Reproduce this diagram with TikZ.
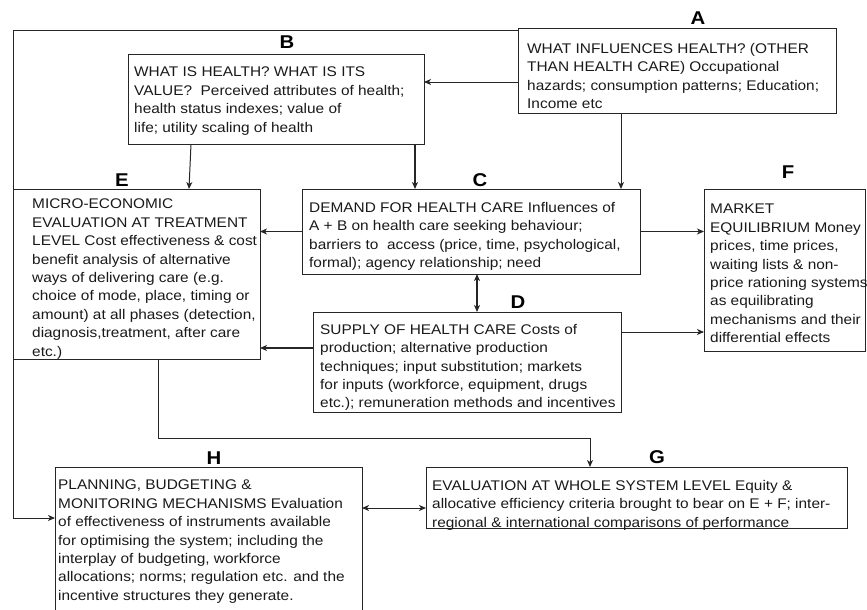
\documentclass[tikz,border=0pt]{standalone}
\usepackage{fontspec}
\setmainfont{Liberation Sans}[FakeStretch=1.1]
\usetikzlibrary{arrows.meta}
\definecolor{ink}{HTML}{262626}
\newcommand{\bodyfont}{\fontsize{14}{18.4}\selectfont}
\begin{document}
\begin{tikzpicture}[x=1pt,y=-1pt,
  box/.style={draw=ink,line width=1pt,inner sep=0pt,outer sep=0pt,anchor=north west},
  txt/.style={anchor=north west,inner sep=0pt,align=left,font=\bodyfont,text=black!90},
  letter/.style={font=\fontsize{18.5}{20}\selectfont\bfseries,inner sep=0pt},
  link/.style={draw=ink,line width=1pt,-{Stealth[length=7pt,width=6pt,inset=2pt]}},
  heavy/.style={link,line width=2pt},
  both/.style={draw=ink,line width=1pt,{Stealth[length=7pt,width=6pt,inset=2pt]}-{Stealth[length=7pt,width=6pt,inset=2pt]}}]
\useasboundingbox (0,0) rectangle (867,610);
\clip (0,0) rectangle (867,610);

% boxes
\node[box,minimum width=318pt,minimum height=84pt] (A) at (518,29) {};
\node[box,minimum width=296pt,minimum height=89pt] (B) at (128,55) {};
\node[box,minimum width=338pt,minimum height=85pt] (C) at (302,189) {};
\node[box,minimum width=308pt,minimum height=100pt] (D) at (313,312) {};
\node[box,minimum width=247pt,minimum height=170pt] (E) at (13,189) {};
\node[box,minimum width=161pt,minimum height=162pt] (F) at (704,189) {};
\node[box,minimum width=421pt,minimum height=61pt] (G) at (426,467) {};
\node[box,minimum width=307pt,minimum height=160pt] (H) at (55,467) {};

% box letters
\node[letter] (lA) at (698,18) {A};
\node[letter] (lB) at (287,42) {B};
\node[letter] (lC) at (480,180) {C};
\node[letter] (lD) at (518,302) {D};
\node[letter] (lE) at (122,180) {E};
\node[letter] (lF) at (788,172) {F};
\node[letter] (lG) at (657,457) {G};
\node[letter] (lH) at (214,458) {H};

% box texts
\node[txt] (tA) at (527,43) {WHAT INFLUENCES HEALTH? (OTHER\\THAN HEALTH CARE) Occupational\\hazards; consumption patterns; Education;\\Income etc};
\node[txt] (tB) at (134,67) {WHAT IS HEALTH? WHAT IS ITS\\VALUE?~ Perceived attributes of health;\\health status indexes; value of\\life; utility scaling of health};
\node[txt] (tC) at (309,202) {DEMAND FOR HEALTH CARE Influences of\\A + B on health care seeking behaviour;\\barriers to~ access (price, time, psychological,\\formal); agency relationship; need};
\node[txt] (tD) at (320,324) {SUPPLY OF HEALTH CARE Costs of\\production; alternative production\\techniques; input substitution; markets\\for inputs (workforce, equipment, drugs\\etc.); remuneration methods and incentives};
\node[txt] (tE) at (32,199) {MICRO-ECONOMIC\\EVALUATION AT TREATMENT\\LEVEL Cost effectiveness \& cost\\benefit analysis of alternative\\ways of delivering care (e.g.\\choice of mode, place, timing or\\amount) at all phases (detection,\\diagnosis,treatment, after care\\etc.)};
\node[txt] (tF) at (710,204) {MARKET\\EQUILIBRIUM Money\\prices, time prices,\\waiting lists \& non-\\price rationing systems\\as equilibrating\\mechanisms and their\\differential effects};
\node[txt] (tG) at (432,480) {EVALUATION AT WHOLE SYSTEM LEVEL Equity \&\\allocative efficiency criteria brought to bear on E + F; inter-\\regional \& international comparisons of performance};
\node[txt] (tH) at (58,480) {PLANNING, BUDGETING \&\\MONITORING MECHANISMS Evaluation\\of effectiveness of instruments available\\for optimising the system; including the\\interplay of budgeting, workforce\\allocations; norms; regulation etc. and the\\incentive structures they generate.};

% connectors
\coordinate (a1) at ([yshift=-53pt]A.north west);
\draw[link] (a1) -- (a1 -| B.east);
\coordinate (a2) at ([xshift=103pt]A.south west);
\draw[link] (a2) -- (a2 |- C.north);
\coordinate (b1) at ([xshift=63pt]B.south west);
\draw[link] (b1) -- ([xshift=176pt]E.north west);
\coordinate (b2) at ([xshift=287pt]B.south west);
\draw[heavy] (b2) -- (b2 |- C.north);
\draw[link] (C.west) -- (C.west -| E.east);
\draw[link] (C.east) -- (C.east -| F.west);
\coordinate (d1) at ([xshift=164pt]D.north west);
\draw[both,line width=1.6pt] (d1) -- (d1 |- C.south);
\coordinate (d2) at ([yshift=-36pt]D.north west);
\draw[heavy] (d2) -- (d2 -| E.east);
\coordinate (d3) at ([yshift=-20pt]D.north east);
\draw[link] (d3) -- (d3 -| F.west);
\coordinate (e1) at ([xshift=145pt]E.south west);
\coordinate (g1) at ([xshift=164pt]G.north west);
\coordinate (egbend) at (0,438);
\draw[link] (e1) -- (e1 |- egbend) -| (g1);
\coordinate (h2) at ([yshift=-41pt]H.north east);
\draw[both] (h2) -- (h2 -| G.west);
\coordinate (l1) at ([yshift=-2pt]A.north west);
\coordinate (loopx) at (13,0);
\coordinate (h1) at ([yshift=-51pt]H.north west);
\draw[link] (l1) -- (l1 -| loopx) |- (h1);
\end{tikzpicture}
\end{document}
